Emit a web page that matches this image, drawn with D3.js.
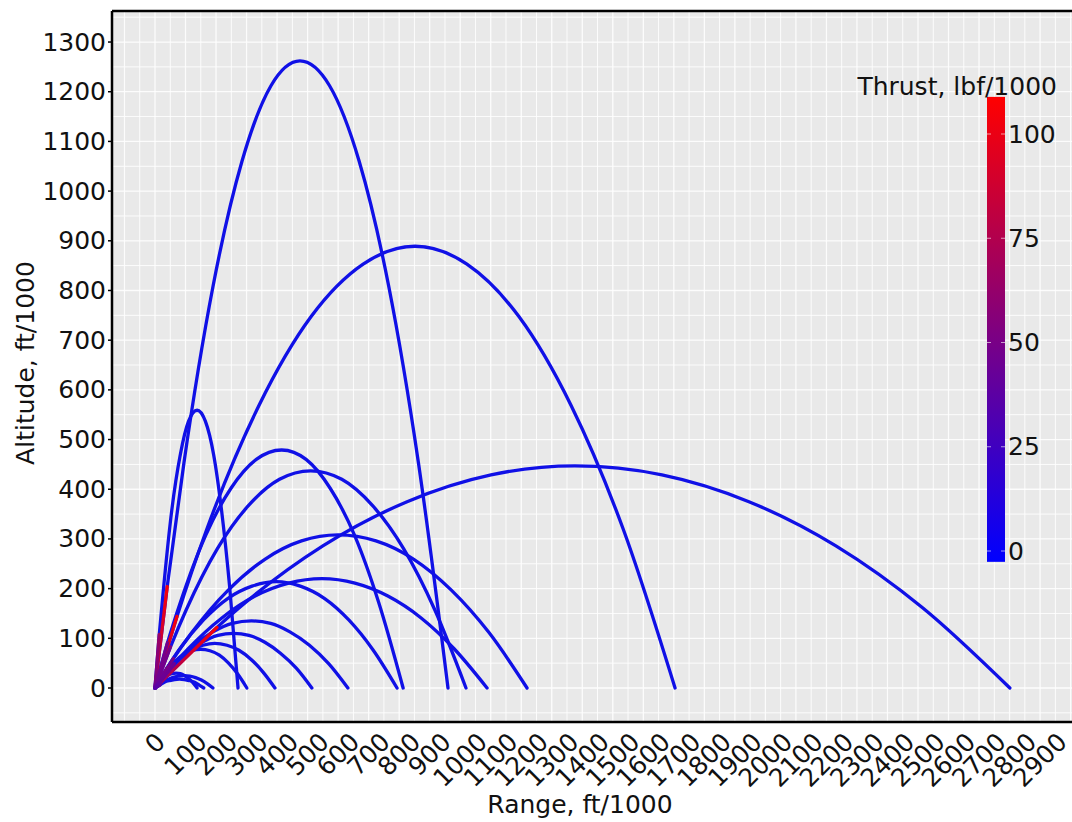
<!DOCTYPE html>
<html><head><meta charset="utf-8">
<script src="https://cdn.jsdelivr.net/npm/d3@7/dist/d3.min.js"></script>
<style>body{margin:0;background:#fff;overflow:hidden} text{font-family:"DejaVu Sans",sans-serif;fill:#111}</style>
</head><body><svg id="chart" width="1072" height="822"></svg>
<script>
// ---- data (ft/1000) ----
const xTickLabels = [0,100,200,300,400,500,600,700,800,900,1000,1100,1200,1300,1400,1500,1600,1700,1800,1900,2000,2100,2200,2300,2400,2500,2600,2700,2800,2900];
const yTickLabels = [0,100,200,300,400,500,600,700,800,900,1000,1100,1200,1300];
const cbTickLabels = [0,25,50,75,100];

const traj01 = [[0,0],[40,204],[95,454],[190,808],[285,1060],[380,1212],[475,1262],[572,1212],[669,1060],[766,808],[863,454],[960,0]];
const traj02 = [[0,0],[72,144],[170,320],[341,569],[511,747],[682,853],[852,889],[1022,853],[1193,747],[1363,569],[1534,320],[1704,0]];
const traj03 = [[0,0],[203,122],[275,161],[550,286],[826,375],[1101,429],[1376,447],[1661,429],[1946,375],[2231,286],[2516,161],[2801,0]];
const traj04 = [[0,0],[14,108],[28,201],[55,358],[83,470],[110,537],[138,559],[165,537],[192,470],[218,358],[245,201],[272,0]];
const traj05 = [[0,0],[41,91],[83,172],[166,307],[249,402],[332,460],[415,479],[495,460],[574,402],[654,307],[733,172],[813,0]];
const traj06 = [[0,0],[51,83],[102,157],[204,280],[306,367],[408,420],[510,437],[612,420],[713,367],[815,280],[917,157],[1019,0]];
const traj07 = [[0,0],[60,59],[120,111],[240,197],[360,259],[480,296],[600,308],[724,296],[848,259],[971,197],[1095,111],[1219,0]];
const traj08 = [[0,0],[55,42],[109,79],[219,141],[328,185],[438,211],[547,220],[655,211],[763,185],[872,141],[980,79],[1088,0]];
const traj09 = [[0,0],[40,41],[79,77],[159,137],[238,180],[318,205],[397,214],[476,205],[556,180],[635,137],[714,77],[793,0]];
const traj10 = [[0,0],[63,49],[126,86],[190,113],[253,130],[316,135],[379,130],[442,113],[506,86],[569,49],[632,0]];
const traj11 = [[0,0],[51,40],[103,70],[154,92],[206,106],[257,110],[308,106],[360,92],[411,70],[463,40],[514,0]];
const traj12 = [[0,0],[39,32],[79,58],[118,76],[157,86],[196,90],[236,86],[275,76],[314,58],[354,32],[393,0]];
const traj13 = [[0,0],[30,28],[60,50],[90,66],[120,75],[150,78],[180,75],[211,66],[241,50],[271,28],[301,0]];
const traj14 = [[0,0],[19,9],[38,16],[57,21],[76,24],[95,25],[114,24],[133,21],[152,16],[171,9],[190,0]];
const traj15 = [[0,0],[14,11],[28,19],[41,25],[55,29],[69,30],[83,29],[97,25],[110,19],[124,11],[138,0]];
const traj16 = [[0,0],[16,6],[32,12],[48,15],[64,17],[80,18],[96,17],[112,15],[128,12],[144,6],[160,0]];
// thrust (lbf/1000) at launch and at burnout (second point); zero afterwards
const thrustStart = [70,70,62,50,45,45,45,45,45,40,40,40,40,35,35,35];
const thrustEnd   = [106,106,108,65,50,50,50,50,50,45,45,45,45,40,40,40];

const trajectories = [traj01,traj02,traj03,traj04,traj05,traj06,traj07,traj08,traj09,traj10,traj11,traj12,traj13,traj14,traj15,traj16];

// ---- layout ----
const svg = d3.select("#chart");
const P = {left:112, top:11, right:1090, bottom:722};
const x = d3.scaleLinear().domain([0,2800]).range([155, 155 + 2800*0.3052]);
const y = d3.scaleLinear().domain([0,1300]).range([688, 688 - 1300*0.4969]);
const color = d3.scaleLinear().domain([-2.6,108.9]).range(["#0000ff","#ff0000"]).interpolate(d3.interpolateRgb);
const FS = 25;

const defs = svg.append("defs");
defs.append("clipPath").attr("id","clip").append("rect")
  .attr("x",P.left).attr("y",P.top).attr("width",P.right-P.left).attr("height",P.bottom-P.top);

svg.append("rect").attr("x",P.left).attr("y",P.top).attr("width",P.right-P.left).attr("height",P.bottom-P.top).attr("fill","#e9e9e9");

// grid
const gx = d3.range(-100, 3150, 50).filter(v => x(v) > P.left && x(v) < P.right);
const gy = d3.range(-50, 1400, 50).filter(v => y(v) > P.top && y(v) < P.bottom);
svg.append("g").selectAll("line").data(gx).join("line")
  .attr("x1",d=>x(d)).attr("x2",d=>x(d)).attr("y1",P.top).attr("y2",P.bottom)
  .attr("stroke","#fff").attr("stroke-width",d=>d%100===0?1.3:1).attr("opacity",0.9);
svg.append("g").selectAll("line").data(gy).join("line")
  .attr("y1",d=>y(d)).attr("y2",d=>y(d)).attr("x1",P.left).attr("x2",P.right)
  .attr("stroke","#fff").attr("stroke-width",d=>d%100===0?1.3:1).attr("opacity",0.9);

// trajectories
const line = d3.line().x(d=>x(d[0])).y(d=>y(d[1])).curve(d3.curveMonotoneX);
const gT = svg.append("g").attr("clip-path","url(#clip)");
gT.selectAll("path.full").data(trajectories).join("path").attr("class","full")
  .attr("d",line).attr("fill","none").attr("stroke","#1010e6").attr("stroke-width",3.3).attr("stroke-linecap","round");
trajectories.forEach((t,i)=>{
  const id = "burn"+i;
  const g = defs.append("linearGradient").attr("id",id).attr("gradientUnits","userSpaceOnUse")
    .attr("x1",x(t[0][0])).attr("y1",y(t[0][1])).attr("x2",x(t[1][0])).attr("y2",y(t[1][1]));
  g.append("stop").attr("offset","0%").attr("stop-color",color(thrustStart[i]));
  g.append("stop").attr("offset","100%").attr("stop-color",color(thrustEnd[i]));
  gT.append("line").attr("x1",x(t[0][0])).attr("y1",y(t[0][1])).attr("x2",x(t[1][0])).attr("y2",y(t[1][1]))
    .attr("stroke","url(#"+id+")").attr("stroke-width",3.3).attr("stroke-linecap","round");
});

// colorbar
const cb = d3.scaleLinear().domain([0,100]).range([551,134]);
const cbg = defs.append("linearGradient").attr("id","cbgrad").attr("x1",0).attr("y1",1).attr("x2",0).attr("y2",0);
cbg.append("stop").attr("offset","0%").attr("stop-color",color(-2.6));
cbg.append("stop").attr("offset","100%").attr("stop-color",color(108.9));
svg.append("rect").attr("x",987).attr("y",cb(108.9)).attr("width",18).attr("height",cb(-2.6)-cb(108.9)).attr("fill","url(#cbgrad)");
const cbt = svg.append("g").selectAll("g").data(cbTickLabels).join("g");
cbt.append("line").attr("x1",987).attr("x2",991).attr("y1",d=>cb(d)).attr("y2",d=>cb(d)).attr("stroke","#fff").attr("opacity",0.6);
cbt.append("line").attr("x1",1001).attr("x2",1005).attr("y1",d=>cb(d)).attr("y2",d=>cb(d)).attr("stroke","#fff").attr("opacity",0.6);
cbt.append("text").attr("x",1008).attr("y",d=>cb(d)).attr("dominant-baseline","central").attr("font-size",FS).text(d=>d);
svg.append("text").attr("x",1057).attr("y",95).attr("text-anchor","end").attr("font-size",FS).text("Thrust, lbf/1000");

// spines
svg.append("line").attr("x1",P.left).attr("x2",P.left).attr("y1",P.top).attr("y2",P.bottom).attr("stroke","#000").attr("stroke-width",2.5);
svg.append("line").attr("x1",P.left).attr("x2",1072).attr("y1",P.bottom).attr("y2",P.bottom).attr("stroke","#000").attr("stroke-width",2.5);
svg.append("line").attr("x1",P.left).attr("x2",1072).attr("y1",P.top).attr("y2",P.top).attr("stroke","#000").attr("stroke-width",2.5);

// y ticks
const yt = svg.append("g").selectAll("g").data(yTickLabels).join("g");
yt.append("line").attr("x1",108).attr("x2",P.left).attr("y1",d=>y(d)).attr("y2",d=>y(d)).attr("stroke","#000").attr("stroke-width",1.5);
yt.append("text").attr("x",106).attr("y",d=>y(d)).attr("text-anchor","end").attr("dominant-baseline","central").attr("font-size",FS).text(d=>d);

// x ticks (rotated 45°, bbox centred on tick)
const xt = svg.append("g").selectAll("text").data(xTickLabels).join("text")
  .attr("text-anchor","middle").attr("dominant-baseline","central").attr("font-size",FS).text(d=>d);
xt.each(function(d){
  const w = this.getComputedTextLength();
  const half = (w + 0.73*FS)*0.7071/2;
  const cx = x(d), cy = 731 + half;
  d3.select(this).attr("x",cx).attr("y",cy).attr("transform",`rotate(-45,${cx},${cy})`);
});

// axis titles
svg.append("text").attr("x",580).attr("y",813).attr("text-anchor","middle").attr("font-size",FS).text("Range, ft/1000");
svg.append("text").attr("transform","translate(34,363) rotate(-90)").attr("text-anchor","middle").attr("font-size",FS).text("Altitude, ft/1000");
</script></body></html>
